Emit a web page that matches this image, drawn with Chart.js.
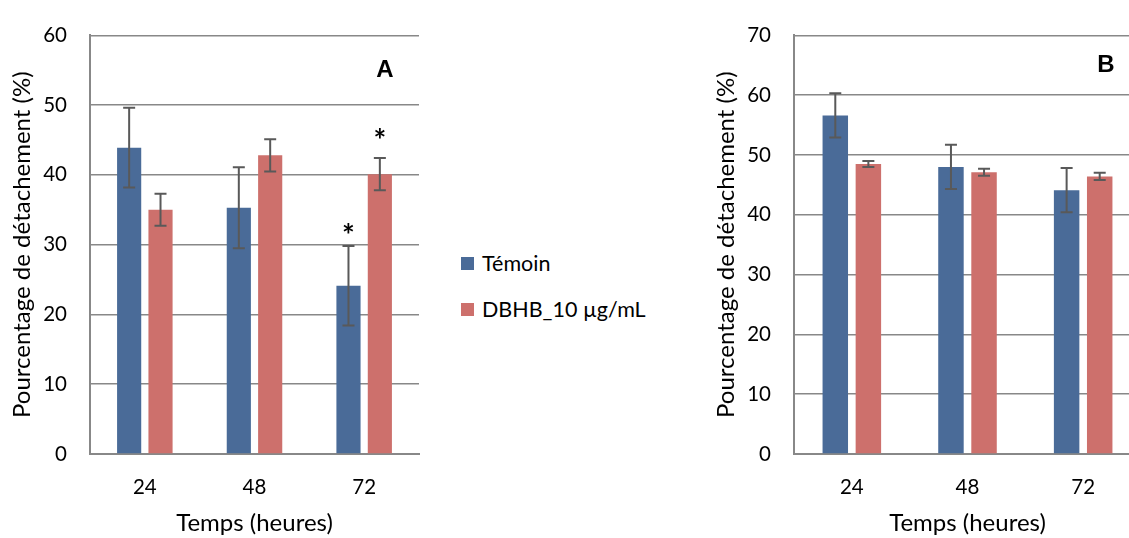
<!DOCTYPE html>
<html>
<head>
<meta charset="utf-8">
<script src="https://cdn.jsdelivr.net/npm/chart.js@4"></script>
<style>
  html, body { margin: 0; padding: 0; background: #fff; }
  body { width: 1129px; height: 538px; position: relative; overflow: hidden; font-family: Lato, sans-serif; }
  #wrapA { position: absolute; left: 0; top: 0; width: 430px; height: 538px; }
  #wrapB { position: absolute; left: 704px; top: 0; width: 448px; height: 538px; }
  #legend { position: absolute; left: 461px; top: 250px; font-size: 21.5px; color: #000; }
  .item { display: flex; align-items: center; height: 26px; margin-bottom: 20px; }
  .box { width: 13px; height: 13px; margin-right: 8px; }
</style>
</head>
<body>
<div id="wrapA"><canvas id="chartA"></canvas></div>
<div id="legend"></div>
<div id="wrapB"><canvas id="chartB"></canvas></div>
<script>
// temps (heures)
const hours = ['24', '48', '72'];
const seriesNames = ['Témoin', 'DBHB_10 µg/mL'];
const colors = ['#4A6B98', '#CD706C'];

// Graphique A
const temoinA = [43.9, 35.3, 24.1];
const temoinErrA = [5.7, 5.8, 5.7];
const dbhbA = [35.0, 42.8, 40.1];
const dbhbErrA = [2.3, 2.3, 2.3];
const starsTemoinA = [null, null, 31.6];
const starsDbhbA = [null, null, 45.2];

// Graphique B
const temoinB = [56.6, 48.0, 44.1];
const temoinErrB = [3.7, 3.7, 3.7];
const dbhbB = [48.5, 47.1, 46.4];
const dbhbErrB = [0.5, 0.6, 0.6];

const gridColor = '#888888';
const tickFont = { family: 'Lato', size: 20.5 };
const titleFont = { family: 'Lato', size: 24 };

// barres d'erreur + etoiles + lettre du panneau
const extras = {
  id: 'extras',
  afterDatasetsDraw(chart, args, opts) {
    const ctx = chart.ctx;
    const y = chart.scales.y;
    ctx.save();
    chart.data.datasets.forEach((ds, i) => {
      const meta = chart.getDatasetMeta(i);
      meta.data.forEach((bar, j) => {
        const v = ds.data[j];
        const e = ds.errors[j];
        const yTop = y.getPixelForValue(v + e);
        const yBot = y.getPixelForValue(v - e);
        ctx.strokeStyle = '#595959';
        ctx.lineWidth = 2;
        ctx.beginPath();
        ctx.moveTo(bar.x, yTop); ctx.lineTo(bar.x, yBot);
        ctx.moveTo(bar.x - 6, yTop); ctx.lineTo(bar.x + 6, yTop);
        ctx.moveTo(bar.x - 6, yBot); ctx.lineTo(bar.x + 6, yBot);
        ctx.stroke();
        if (ds.stars && ds.stars[j] != null) {
          ctx.fillStyle = '#000';
          ctx.font = 'bold 30px Lato';
          ctx.textAlign = 'center';
          ctx.textBaseline = 'middle';
          ctx.fillText('*', bar.x, y.getPixelForValue(ds.stars[j]) + 3);
        }
      });
    });
    const area = chart.chartArea;
    ctx.fillStyle = '#000';
    ctx.font = 'bold 24px "Liberation Sans", Arial';
    ctx.textAlign = 'center';
    ctx.textBaseline = 'middle';
    ctx.fillText(opts.letter, area.right + opts.dx, area.top + opts.dy);
    ctx.restore();
  }
};

function makeChart(id, temoin, temoinErr, dbhb, dbhbErr, stars, yMax, letter) {
  const ctx = document.getElementById(id).getContext('2d');
  return new Chart(ctx, {
    type: 'bar',
    data: {
      labels: hours,
      datasets: [{
        label: seriesNames[0],
        data: temoin,
        errors: temoinErr,
        stars: stars[0],
        backgroundColor: colors[0]
      }, {
        label: seriesNames[1],
        data: dbhb,
        errors: dbhbErr,
        stars: stars[1],
        backgroundColor: colors[1]
      }]
    },
    options: {
      responsive: true,
      maintainAspectRatio: false,
      animation: false,
      layout: { padding: { top: 26, right: 11, left: 0, bottom: 0 } },
      datasets: { bar: { categoryPercentage: 0.572, barPercentage: 0.77 } },
      plugins: {
        legend: { display: false },
        tooltip: { enabled: false },
        extras: letter
      },
      scales: {
        x: {
          grid: { display: false, drawTicks: false },
          border: { display: true, color: gridColor, width: 2 },
          ticks: { color: '#000', font: tickFont, padding: 21 },
          title: { display: true, text: 'Temps (heures)', color: '#000', font: titleFont, padding: { top: 0, bottom: 0 } },
          afterFit: (s) => { s.height = 84; }
        },
        y: {
          min: 0,
          max: yMax,
          ticks: { stepSize: 10, color: '#000', font: tickFont, padding: 23 },
          grid: { color: gridColor, lineWidth: 1.6, drawTicks: false },
          border: { display: true, color: gridColor, width: 2 },
          title: { display: true, text: 'Pourcentage de détachement (%)', color: '#000', font: titleFont, padding: { top: 8, bottom: 0 } },
          afterFit: (s) => { s.width = 90; }
        }
      }
    },
    plugins: [extras]
  });
}

const chartA = makeChart('chartA', temoinA, temoinErrA, dbhbA, dbhbErrA,
  [starsTemoinA, starsDbhbA], 60, { letter: 'A', dx: -34, dy: 35 });
makeChart('chartB', temoinB, temoinErrB, dbhbB, dbhbErrB,
  [[null, null, null], [null, null, null]], 70, { letter: 'B', dx: -35, dy: 30 });

// legende commune
const legend = document.getElementById('legend');
chartA.data.datasets.forEach(ds => {
  const item = document.createElement('div');
  item.className = 'item';
  const box = document.createElement('div');
  box.className = 'box';
  box.style.background = ds.backgroundColor;
  const label = document.createElement('span');
  label.textContent = ds.label;
  item.appendChild(box);
  item.appendChild(label);
  legend.appendChild(item);
});
</script>
</body>
</html>
